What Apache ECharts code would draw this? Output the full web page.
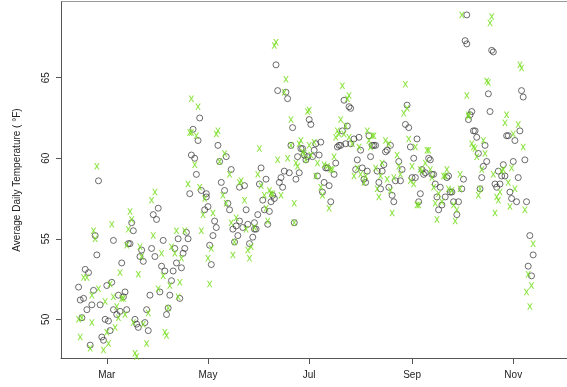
<!DOCTYPE html>
<html>
<head>
<meta charset="utf-8">
<script src="https://cdn.jsdelivr.net/npm/echarts@6/dist/echarts.min.js"></script>
<style>
html,body{margin:0;padding:0;background:#fff;}
#chart{width:567px;height:387px;}
</style>
</head>
<body>
<div id="chart"></div>
<script>
// x values are day-of-year (Jan 1 = 1)
const monthTickDays = [60, 121, 182, 244, 305];
const monthTickLabels = ['Mar', 'May', 'Jul', 'Sep', 'Nov'];
const tempTicks = [50, 55, 60, 65];

const circleDay = [43,44,45,46,47,48,49,50,51,52,53,54,55,56,57,58,59,60,61,62,63,64,64,66,67,68,69,70,71,72,73,74,75,76,77,78,79,80,81,82,83,84,85,86,87,88,89,90,91,92,93,94,95,96,97,98,99,100,101,102,103,104,105,106,107,108,109,110,111,112,113,114,115,116,117,119,120,120,121,122,123,124,125,126,127,128,129,131,132,133,134,135,136,137,138,139,140,140,142,143,144,145,146,148,149,149,150,151,152,153,154,155,156,157,158,159,160,161,162,163,164,165,166,167,168,169,170,171,172,173,174,175,176,177,178,179,180,181,182,183,184,185,186,187,188,189,190,191,192,193,194,195,197,198,199,200,201,202,203,204,205,206,207,207,209,210,211,212,213,214,215,216,217,218,219,220,221,222,223,224,225,226,227,228,229,230,231,232,233,234,236,237,238,240,241,242,243,244,245,246,247,248,249,250,251,252,254,255,256,257,258,259,260,261,262,264,265,266,267,268,269,271,272,274,275,276,277,277,278,279,280,281,282,283,284,285,286,287,288,289,290,291,292,293,294,295,296,297,298,299,300,301,302,303,304,305,306,307,308,309,310,311,312,313,314,315,316,317];
const circleTemp = [52.0,51.2,50.1,51.3,53.1,50.6,52.9,48.4,50.9,51.8,55.2,54.0,58.6,50.9,48.9,48.7,50.0,52.1,49.9,49.3,52.3,54.9,50.6,50.3,51.5,50.5,53.5,51.4,51.7,50.6,54.7,54.7,56.0,55.5,50.0,49.7,49.5,53.9,54.3,53.6,49.8,50.6,49.3,51.5,54.4,56.5,53.9,56.2,56.9,51.7,53.3,54.9,53.0,50.3,50.7,51.5,52.4,53.0,54.4,53.5,55.0,51.3,53.2,54.1,54.4,55.4,55.0,57.8,60.2,61.8,60.0,59.0,61.1,62.5,58.0,56.8,57.8,57.6,57.0,54.6,53.4,55.2,56.1,55.7,60.8,59.8,58.5,58.0,60.1,57.2,56.8,59.3,55.6,54.8,55.8,55.2,56.1,58.2,55.7,58.3,56.8,55.9,54.7,55.1,55.6,56.0,55.6,56.5,58.4,59.4,57.4,56.8,58.7,55.9,56.7,57.3,57.7,57.5,65.8,64.2,58.5,58.8,58.2,59.2,64.1,63.7,59.1,60.8,61.9,56.0,58.7,60.1,59.1,60.6,60.6,60.2,59.9,60.1,62.4,62.1,60.1,60.5,60.9,58.9,60.2,61.0,57.9,58.5,59.4,59.4,58.3,57.3,59.0,59.7,60.7,60.8,60.8,61.7,63.6,60.9,62.0,63.2,63.1,60.9,61.2,59.3,59.9,61.3,60.5,59.4,58.7,58.5,59.2,61.4,60.1,60.8,60.8,60.8,59.2,58.5,58.1,59.2,59.6,60.4,60.5,58.2,60.8,57.7,57.3,58.6,59.8,58.6,59.3,62.1,63.3,61.9,60.7,58.8,60.0,58.8,61.2,57.3,57.8,59.3,59.0,59.1,60.0,59.9,59.0,59.0,58.4,57.6,56.8,58.2,57.1,57.6,58.8,58.9,57.9,57.9,57.3,56.5,57.3,58.1,58.7,67.3,68.9,67.1,62.4,62.7,62.9,61.7,61.7,61.3,60.3,58.1,58.8,59.5,60.8,59.8,64.0,62.9,66.7,66.6,58.4,58.2,59.2,58.4,58.9,59.6,58.9,61.4,61.4,57.9,57.5,59.8,61.1,57.3,58.8,61.7,64.2,63.8,59.9,57.3,53.3,55.2,52.7,54.0];

const crossDay = [43,44,45,46,48,50,51,51,52,53,54,55,58,59,60,61,62,63,64,65,66,67,68,69,70,71,72,73,74,75,76,77,78,79,80,81,82,84,85,87,88,89,91,93,94,95,96,97,98,99,101,102,103,104,105,107,109,110,111,111,113,114,115,116,117,118,119,121,122,123,124,126,127,128,130,131,132,134,135,136,137,138,140,141,143,144,145,146,147,149,151,152,153,155,156,157,158,159,160,161,162,163,165,167,168,169,171,171,173,173,174,175,176,177,178,179,180,181,182,182,183,185,186,187,189,190,191,193,194,195,196,197,198,199,200,201,202,203,204,205,206,206,208,209,211,212,213,215,216,217,218,219,220,221,222,223,224,225,226,228,229,230,231,232,233,235,236,237,239,240,241,242,243,244,245,246,247,248,249,250,252,253,254,255,256,257,258,259,260,262,263,264,265,266,268,269,270,271,273,273,274,277,278,278,280,281,282,283,284,285,286,287,288,289,290,291,292,293,294,295,296,297,298,299,300,301,302,303,304,305,306,308,309,310,311,312,313,314,315,316,317];
const crossTemp = [50.0,48.9,50.1,52.6,52.6,48.2,49.8,51.5,55.5,55.0,59.5,51.9,48.1,51.1,49.2,48.5,52.2,55.9,51.4,49.5,50.8,50.1,52.9,51.3,51.3,50.3,54.6,55.6,56.7,56.2,49.8,47.9,47.7,52.8,54.5,53.9,49.7,48.5,50.4,57.4,55.2,57.9,51.9,54.1,52.7,49.2,49.0,50.7,52.1,54.5,54.1,55.5,51.4,52.3,53.8,55.5,58.4,61.6,63.7,61.6,59.6,61.4,63.2,58.2,55.5,56.5,57.5,53.8,52.2,54.4,56.6,61.5,61.7,59.8,57.7,60.3,57.2,59.0,56.0,54.0,54.8,56.3,58.5,58.6,57.4,55.6,54.3,53.8,54.5,55.7,59.0,60.6,58.3,57.7,56.9,56.1,58.0,57.8,57.8,67.0,67.2,59.9,57.7,64.1,64.9,60.0,60.8,62.4,57.2,56.0,59.7,59.5,60.9,61.1,60.4,60.3,59.9,62.9,63.0,60.8,60.2,61.0,58.9,59.7,58.2,57.7,59.6,59.5,56.9,59.3,59.3,60.1,61.3,61.7,61.5,62.4,64.5,61.5,62.0,63.7,63.9,61.3,60.9,58.9,59.4,60.7,59.0,58.5,58.9,61.7,61.1,60.7,61.4,61.4,59.4,58.1,57.6,58.9,59.7,61.1,58.7,60.9,58.0,56.6,58.8,60.2,59.5,59.0,62.8,64.6,63.1,61.2,58.6,59.5,58.4,60.7,57.1,57.1,59.3,59.2,59.7,60.5,60.5,59.3,58.8,58.2,57.2,56.2,57.8,57.3,58.9,58.9,59.3,58.1,58.0,57.1,56.1,56.8,59.0,58.1,68.9,63.9,62.7,62.6,60.9,60.7,60.6,60.1,57.7,58.1,59.3,61.1,60.3,64.8,64.7,68.4,68.8,59.0,56.6,57.6,57.4,57.9,59.2,59.3,62.2,62.7,58.5,57.0,59.4,61.5,58.1,62.1,65.8,65.6,60.7,56.8,51.7,52.8,50.8,52.1,54.7];

const circleData = circleDay.map((d, i) => [d, circleTemp[i]]);
const crossData = crossDay.map((d, i) => [d, crossTemp[i]]);

const axisColor = '#555';
const fontFamily = '"Liberation Sans", Arial, Helvetica, sans-serif';

const chart = echarts.init(document.getElementById('chart'), null, {renderer: 'canvas'});
chart.setOption({
  animation: false,
  backgroundColor: '#fff',
  grid: {left: 61, top: 2, width: 520, height: 356, show: false},
  xAxis: {
    type: 'value',
    min: 32.4,
    max: 337.4,
    splitLine: {show: false},
    axisLine: {show: true, lineStyle: {color: axisColor, width: 1}},
    axisTick: {show: true, length: 6, inside: false, customValues: monthTickDays, lineStyle: {color: axisColor}},
    axisLabel: {
      customValues: monthTickDays,
      margin: 12,
      fontSize: 10,
      color: '#222',
      fontFamily: fontFamily,
      formatter: function (v) {
        const i = monthTickDays.indexOf(v);
        return i >= 0 ? monthTickLabels[i] : '';
      }
    }
  },
  yAxis: {
    type: 'value',
    min: 47.6,
    max: 69.7,
    name: 'Average Daily Temperature ( °F)',
    nameLocation: 'middle',
    nameRotate: 90,
    nameGap: 39,
    nameTextStyle: {fontSize: 10, color: '#222', fontFamily: fontFamily},
    splitLine: {show: false},
    axisLine: {show: true, lineStyle: {color: axisColor, width: 1}},
    axisTick: {show: true, length: 5, customValues: tempTicks, lineStyle: {color: axisColor}},
    axisLabel: {
      customValues: tempTicks,
      rotate: 90,
      margin: 10,
      fontSize: 10,
      color: '#222',
      fontFamily: fontFamily
    }
  },
  graphic: [{
    type: 'line',
    shape: {x1: 61, y1: 1.5, x2: 567, y2: 1.5},
    style: {stroke: '#999', lineWidth: 1},
    silent: true
  }],
  series: [
    {
      type: 'scatter',
      data: circleData,
      symbol: 'circle',
      symbolSize: 6,
      itemStyle: {color: 'rgba(0,0,0,0)', borderColor: '#333', borderWidth: 0.9},
      silent: true,
      z: 2
    },
    {
      type: 'scatter',
      data: crossData,
      symbol: 'path://M0,0 L2.2,0 L5,3.6 L7.8,0 L10,0 L6.2,5 L10,10 L7.8,10 L5,6.4 L2.2,10 L0,10 L3.8,5 Z',
      symbolSize: [5.5, 6.5],
      itemStyle: {color: '#74dd1a'},
      silent: true,
      z: 3
    }
  ]
});
</script>
</body>
</html>
